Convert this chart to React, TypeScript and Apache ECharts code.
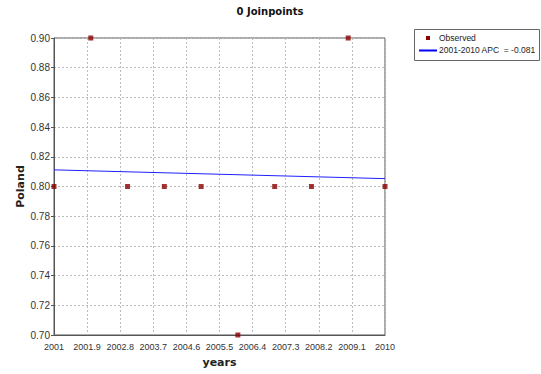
import React, { useEffect, useRef } from "react";
import * as echarts from "echarts";

const baseYear = 2001;
const years = [2001, 2002, 2003, 2004, 2005, 2006, 2007, 2008, 2009, 2010];
const observed = [0.8, 0.9, 0.8, 0.8, 0.8, 0.7, 0.8, 0.8, 0.9, 0.8];
const fitYears = [2001, 2010];
const fitValues = [0.8112, 0.8053];
const legendObserved = "Observed";
const legendFit = "2001-2010 APC  = -0.081";

export default function App() {
  const ref = useRef<HTMLDivElement>(null);
  useEffect(() => {
    if (!ref.current) return;
    const chart = echarts.init(ref.current, null, { renderer: "svg" });
    const font = "Liberation Sans";
    const boldFont = "DejaVu Sans";
    chart.setOption({
      animation: false,
      backgroundColor: "#ffffff",
      title: {
        text: "0 Joinpoints",
        left: 265,
        textAlign: "center",
        top: 1,
        textStyle: { fontFamily: boldFont, fontSize: 10, fontWeight: "bold", color: "#111" },
      },
      grid: {
        left: 54,
        right: 156,
        top: 38,
        bottom: 39,
        show: true,
        borderColor: "#555",
        borderWidth: 1,
        backgroundColor: "transparent",
      },
      xAxis: {
        type: "value",
        min: 0,
        max: 9,
        interval: 0.9,
        name: "years",
        nameLocation: "middle",
        nameGap: 22,
        nameTextStyle: { fontFamily: boldFont, fontSize: 11, fontWeight: "bold", color: "#222" },
        axisLine: { show: true, lineStyle: { color: "#555" } },
        axisTick: { show: false },
        axisLabel: {
          fontFamily: font,
          fontSize: 9,
          color: "#333",
          margin: 7,
          formatter: (v: number) => String(Number((v + baseYear).toFixed(1))),
        },
        splitLine: { show: true, lineStyle: { color: "#bbb", type: [2, 2] } },
      },
      yAxis: {
        type: "value",
        min: 0.7,
        max: 0.9,
        interval: 0.02,
        name: "Poland",
        nameLocation: "middle",
        nameGap: 28,
        nameMoveOverlap: false,
        nameRotate: 90,
        nameTextStyle: { fontFamily: boldFont, fontSize: 11, fontWeight: "bold", color: "#222" },
        axisLine: { show: true, lineStyle: { color: "#555" } },
        axisTick: { show: true, length: 3, lineStyle: { color: "#555" } },
        axisLabel: {
          fontFamily: font,
          fontSize: 10,
          color: "#333",
          margin: 4,
          formatter: (v: number) => v.toFixed(2),
        },
        splitLine: { show: true, lineStyle: { color: "#bbb", type: [2, 2] } },
      },
      series: [
        {
          type: "line",
          name: legendFit,
          data: fitYears.map((y, i) => [y - baseYear, fitValues[i]]),
          showSymbol: false,
          lineStyle: { color: "#2020ff", width: 1 },
          z: 2,
        },
        {
          type: "scatter",
          name: legendObserved,
          data: years.map((y, i) => [y - baseYear, observed[i]]),
          symbol: "rect",
          symbolSize: 5,
          itemStyle: { color: "#8b0000" },
          z: 3,
        },
      ],
      graphic: [
        {
          type: "rect",
          shape: { x: 414.5, y: 29.5, width: 125, height: 31 },
          style: { fill: "#fff", stroke: "#666", lineWidth: 1 },
        },
        {
          type: "rect",
          shape: { x: 426, y: 36, width: 4, height: 4 },
          style: { fill: "#8b0000" },
        },
        {
          type: "line",
          shape: { x1: 419, y1: 50.5, x2: 437, y2: 50.5 },
          style: { stroke: "#0000ff", lineWidth: 2 },
        },
        {
          type: "text",
          x: 439,
          y: 38,
          style: { text: legendObserved, fontFamily: font, fontSize: 8.5, fill: "#222", textVerticalAlign: "middle" },
        },
        {
          type: "text",
          x: 439,
          y: 50,
          style: { text: legendFit, fontFamily: font, fontSize: 8.5, fill: "#222", textVerticalAlign: "middle" },
        },
      ],
    });
    return () => chart.dispose();
  }, []);
  return (
    <div
      ref={ref}
      style={{ position: "fixed", left: 0, top: 0, width: 541, height: 374 }}
    />
  );
}
